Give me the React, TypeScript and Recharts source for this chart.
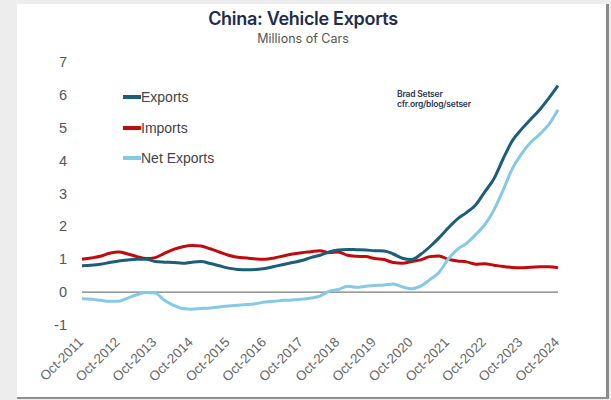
import { Line, LineChart, ReferenceLine, XAxis, YAxis } from 'recharts';

// quarterly points, Oct-2011 .. Oct-2024
const MONTHS = ['Oct', 'Jan', 'Apr', 'Jul'];
const DATES: string[] = [];
for (let i = 0; i < 53; i++) {
  const m = MONTHS[i % 4];
  const year = 2011 + Math.floor((i + 3) / 4);
  DATES.push(`${m}-${year}`);
}

const EXPORTS = [
  0.8, 0.82, 0.85, 0.9, 0.95, 0.98, 1.0, 1.0, 0.93, 0.91, 0.9, 0.88, 0.91, 0.93, 0.87, 0.8, 0.73, 0.69, 0.68,
  0.69, 0.72, 0.78, 0.84, 0.9, 0.96, 1.05, 1.12, 1.22, 1.28, 1.3, 1.29, 1.28, 1.26, 1.25, 1.16, 1.03, 0.99, 1.15,
  1.38, 1.65, 1.95, 2.22, 2.42, 2.65, 3.05, 3.45, 4.05, 4.6, 4.95, 5.25, 5.55, 5.9, 6.28,
];
const IMPORTS = [
  1.0, 1.04, 1.09, 1.18, 1.22, 1.16, 1.08, 1.02, 1.05, 1.18, 1.3, 1.38, 1.42, 1.4, 1.32, 1.22, 1.12, 1.06, 1.04,
  1.01, 1.0, 1.04, 1.1, 1.16, 1.2, 1.23, 1.26, 1.2, 1.22, 1.12, 1.09, 1.08, 1.02, 0.99, 0.9, 0.88, 0.93, 0.98,
  1.08, 1.1, 1.0, 0.95, 0.92, 0.85, 0.86, 0.82, 0.78, 0.75, 0.74, 0.76, 0.77, 0.77, 0.74,
];
const NET = [
  -0.2, -0.22, -0.25, -0.28, -0.28, -0.18, -0.08, -0.01, -0.03, -0.25, -0.4, -0.5, -0.52, -0.5, -0.48, -0.45,
  -0.42, -0.4, -0.38, -0.35, -0.3, -0.28, -0.25, -0.24, -0.22, -0.18, -0.12, 0.03, 0.08, 0.18, 0.15, 0.18, 0.2,
  0.22, 0.25, 0.16, 0.1, 0.18, 0.38, 0.6, 1.0, 1.3, 1.48, 1.75, 2.05, 2.5, 3.1, 3.75, 4.2, 4.55, 4.8, 5.1, 5.55,
];
const Y_TICKS = [-1, 0, 1, 2, 3, 4, 5, 6, 7];

const data = DATES.map((date, i) => ({ date, exports: EXPORTS[i], imports: IMPORTS[i], net: NET[i] }));

const C_EXP = '#1c5d79';
const C_IMP = '#c00a0e';
const C_NET = '#85c9e6';

const XTick = ({ x, y, payload }: any) => (
  <text
    x={x + 2}
    y={y + 18}
    transform={`rotate(-45, ${x + 2}, ${y + 18})`}
    textAnchor="end"
    fontSize={13.5}
    fontFamily="Liberation Sans, Arial, sans-serif"
    fill="#666"
  >
    {payload.value}
  </text>
);

const YTick = ({ y, payload }: any) => (
  <text x={67} y={y + 5} textAnchor="end" fontSize={14.5} fontFamily="Liberation Sans, Arial, sans-serif" fill="#555">
    {payload.value}
  </text>
);

const legend = [
  { label: 'Exports', color: C_EXP, top: 97 },
  { label: 'Imports', color: C_IMP, top: 128 },
  { label: 'Net Exports', color: C_NET, top: 158 },
];

export default function App() {
  return (
    <div style={{ position: 'fixed', left: 0, top: 0, width: 611, height: 400, background: '#ededed', overflow: 'hidden' }}>
      <div
        style={{
          position: 'absolute',
          left: 17,
          top: 4,
          width: 589,
          height: 393,
          background: '#fff',
          borderRight: '3px solid #8a8a8a',
          borderBottom: '2px solid #8f8f8f',
        }}
      />
      <div style={{ position: 'absolute', left: 0, top: 0 }}>
        <LineChart width={611} height={400} data={data} margin={{ top: 62, right: 53, bottom: 0, left: 22 }}>
          <XAxis
            dataKey="date"
            interval={3}
            axisLine={false}
            tickLine={false}
            tickSize={0}
            tickMargin={0}
            height={75}
            tick={<XTick />}
          />
          <YAxis
            domain={[-1, 7]}
            ticks={Y_TICKS}
            axisLine={false}
            tickLine={false}
            width={60}
            tick={<YTick />}
          />
          <ReferenceLine y={0} stroke="#7a7a7a" strokeWidth={1.2} />
          <Line type="monotone" dataKey="imports" stroke={C_IMP} strokeWidth={3} dot={false} isAnimationActive={false} />
          <Line type="monotone" dataKey="net" stroke={C_NET} strokeWidth={3} dot={false} isAnimationActive={false} />
          <Line type="monotone" dataKey="exports" stroke={C_EXP} strokeWidth={3} dot={false} isAnimationActive={false} />
        </LineChart>
      </div>
      <div
        style={{
          position: 'absolute',
          left: 0,
          width: 606,
          top: 8,
          textAlign: 'center',
          fontFamily: 'Inter, sans-serif',
          fontWeight: 600,
          fontSize: 18,
          color: '#1d2d4d',
          letterSpacing: -0.3,
        }}
      >
        China: Vehicle Exports
      </div>
      <div
        style={{
          position: 'absolute',
          left: 0,
          width: 606,
          top: 31,
          textAlign: 'center',
          fontFamily: 'Inter, sans-serif',
          fontSize: 12.5,
          color: '#555',
        }}
      >
        Millions of Cars
      </div>
      {legend.map((l) => (
        <div key={l.label} style={{ position: 'absolute', left: 123, top: l.top - 9, display: 'flex', alignItems: 'center' }}>
          <div style={{ width: 18, height: 4, background: l.color }} />
          <span style={{ fontFamily: 'Liberation Sans, Arial, sans-serif', fontSize: 14, color: '#444', lineHeight: '18px' }}>
            {l.label}
          </span>
        </div>
      ))}
      <div
        style={{
          position: 'absolute',
          left: 397,
          top: 89,
          fontFamily: 'Inter, sans-serif',
          fontSize: 8.5,
          fontWeight: 600,
          color: '#2a3550',
          lineHeight: '10px',
          letterSpacing: -0.2,
        }}
      >
        Brad Setser
        <br />
        cfr.org/blog/setser
      </div>
    </div>
  );
}
